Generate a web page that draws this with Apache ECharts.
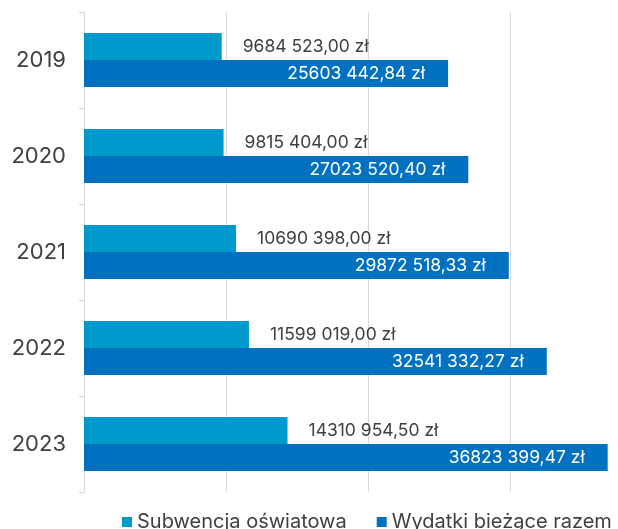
<!DOCTYPE html>
<html>
<head>
<meta charset="utf-8">
<script src="https://cdn.jsdelivr.net/npm/echarts@6/dist/echarts.min.js"></script>
<style>
  html, body { margin: 0; padding: 0; background: #fff; }
  #main { width: 618px; height: 529px; }
</style>
</head>
<body>
<div id="main"></div>
<script>
var years = ['2019', '2020', '2021', '2022', '2023'];
var subwencja = [9684523.00, 9815404.00, 10690398.00, 11599019.00, 14310954.50];
var wydatki = [25603442.84, 27023520.40, 29872518.33, 32541332.27, 36823399.47];
var seriesNames = ['Subwencja oświatowa', 'Wydatki bieżące razem'];

// "25603 442,84 zł"
function formatZl(v) {
  var parts = v.toFixed(2).split('.');
  var s = parts[0];
  if (s.length > 3) s = s.slice(0, -3) + ' ' + s.slice(-3);
  return s + ',' + parts[1] + ' zł';
}

var font = 'Inter';
var myChart = echarts.init(document.getElementById('main'));

var option = {
  animation: false,
  textStyle: { fontFamily: font },
  grid: { left: 84, right: 0, top: 12, height: 480 },
  legend: {
    left: 117,
    top: 507,
    itemWidth: 10,
    itemHeight: 10,
    itemGap: 30,
    icon: 'rect',
    textStyle: { fontSize: 20, color: '#404040', fontFamily: font },
    data: seriesNames
  },
  xAxis: {
    type: 'value',
    min: 0,
    max: 37550000,
    interval: 10000000,
    axisLabel: { show: false },
    axisLine: { show: false },
    axisTick: { show: false },
    splitLine: { show: true, showMinLine: false, showMaxLine: false, lineStyle: { color: '#d9d9d9', width: 1 } }
  },
  yAxis: {
    type: 'category',
    inverse: true,
    data: years,
    axisLine: { show: true, lineStyle: { color: '#d9d9d9', width: 1 } },
    axisTick: { show: true, length: 5, lineStyle: { color: '#d9d9d9' } },
    axisLabel: { fontSize: 22, color: '#404040', margin: 18, fontFamily: font }
  },
  series: [
    {
      name: seriesNames[0],
      type: 'bar',
      data: subwencja,
      barWidth: 27,
      barGap: '0%',
      itemStyle: { color: '#0099cc' },
      label: {
        show: true,
        position: 'right',
        distance: 21,
        color: '#404040',
        fontSize: 17.5,
        fontFamily: font,
        formatter: function (p) { return formatZl(p.value); }
      }
    },
    {
      name: seriesNames[1],
      type: 'bar',
      data: wydatki,
      barWidth: 27,
      barGap: '0%',
      itemStyle: { color: '#0070c0' },
      label: {
        show: true,
        position: 'insideRight',
        distance: 23,
        color: '#ffffff',
        fontSize: 17.5,
        fontFamily: font,
        formatter: function (p) { return formatZl(p.value); }
      }
    }
  ]
};
myChart.setOption(option);
</script>
</body>
</html>
